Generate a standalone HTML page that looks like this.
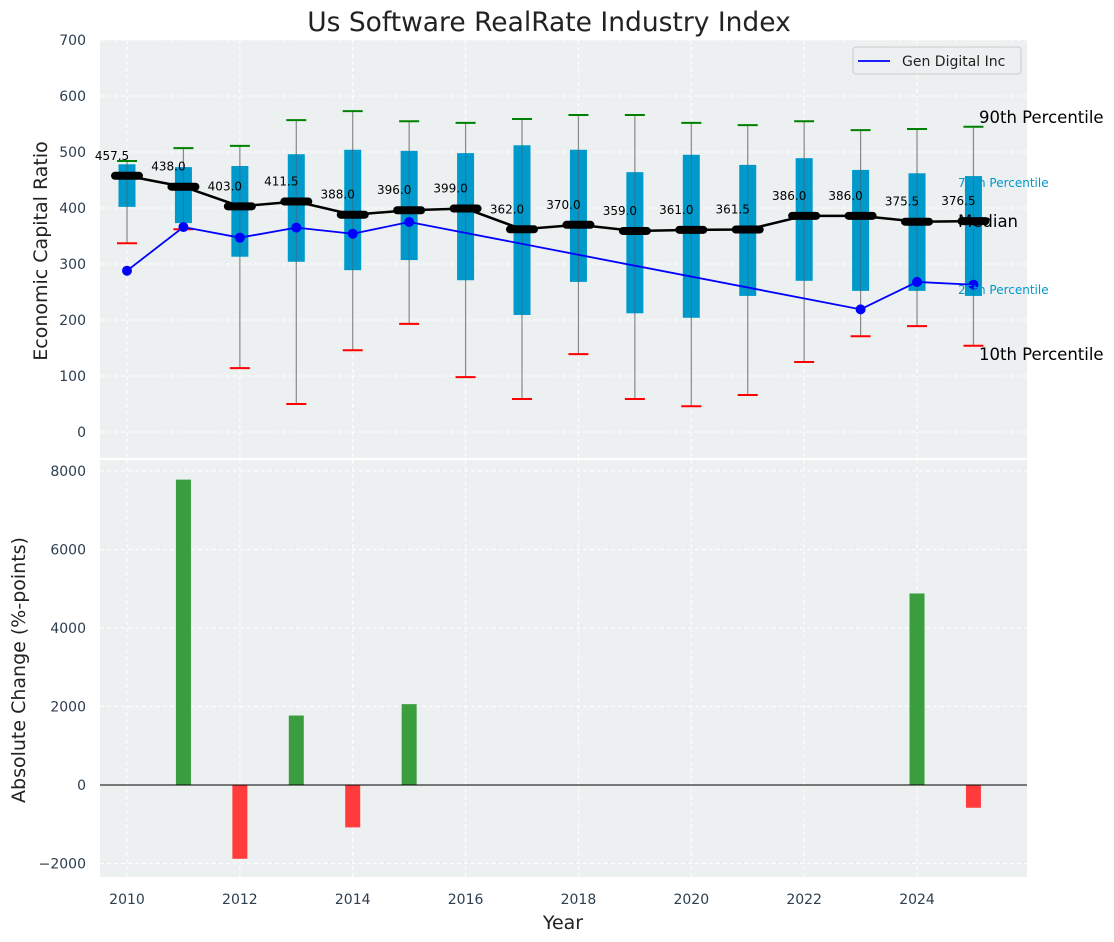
<!DOCTYPE html>
<html><head><meta charset="utf-8"><style>
body{margin:0;background:#fff;}
svg{display:block;font-family:"DejaVu Sans","Liberation Sans",sans-serif;}
</style></head><body>
<svg id="chart" width="1114" height="942" viewBox="0 0 1114 942" xmlns="http://www.w3.org/2000/svg"></svg>
<script>
const years=[2010,2011,2012,2013,2014,2015,2016,2017,2018,2019,2020,2021,2022,2023,2024,2025];
const p90=[484,507,511,557,573,555,552,559,566,566,552,548,555,539,541,545];
const p75=[478,473,475,496,504,502,498,512,504,464,495,477,489,468,462,457];
const median=[457.5,438.0,403.0,411.5,388.0,396.0,399.0,362.0,370.0,359.0,361.0,361.5,386.0,386.0,375.5,376.5];
const p25=[402,373,313,304,289,307,271,209,268,212,204,243,270,252,252,243];
const p10=[337,362,114,50,146,193,98,59,139,59,46,66,125,171,189,154];
const genYears=[2010,2011,2012,2013,2014,2015,2023,2024,2025];
const genValues=[288,366,347,365,354,375,219,268,263];
const changeYears=[2011,2012,2013,2014,2015,2024,2025];
const changeValues=[7780,-1880,1770,-1080,2060,4880,-580];
const topTicks=[0,100,200,300,400,500,600,700];
const botTicks=[-2000,0,2000,4000,6000,8000];
const xTicks=[2010,2012,2014,2016,2018,2020,2022,2024];

const NS="http://www.w3.org/2000/svg";
const svg=document.getElementById('chart');
function el(t,a,p){const e=document.createElementNS(NS,t);for(const k in a)e.setAttribute(k,a[k]);(p||svg).appendChild(e);return e;}
const L=100,R=1027,T1=40,B1=458,T2=460,B2=877;
const x=v=>127+(v-2010)*56.43;
const y1=v=>432-v*0.56;
const y2=v=>785-v*0.03925;
const tc='#2c3e50';

let bg1=el('rect',{x:L,y:T1,width:R-L,height:B1-T1,fill:'#ecf0f1'});

let bg2=el('rect',{x:L,y:T2,width:R-L,height:B2-T2,fill:'#ecf0f1'});


xTicks.forEach(v=>{
  el('line',{x1:x(v),x2:x(v),y1:T1,y2:B1,stroke:'#fff','stroke-dasharray':'4,3'});
  el('line',{x1:x(v),x2:x(v),y1:T2,y2:B2,stroke:'#fff','stroke-dasharray':'4,3'});
  const t=el('text',{x:x(v),y:904,'text-anchor':'middle','font-size':14,fill:tc});t.textContent=v;
  
});
topTicks.forEach(v=>{
  el('line',{x1:L,x2:R,y1:y1(v),y2:y1(v),stroke:'#fff','stroke-dasharray':'4,3'});
  const t=el('text',{x:86,y:y1(v)+5,'text-anchor':'end','font-size':14,fill:tc});t.textContent=v;
  
});
botTicks.forEach(v=>{
  el('line',{x1:L,x2:R,y1:y2(v),y2:y2(v),stroke:'#fff','stroke-dasharray':'4,3'});
  const t=el('text',{x:86,y:y2(v)+5,'text-anchor':'end','font-size':14,fill:tc});t.textContent=v<0?'\u2212'+(-v):v;
  
});

years.forEach((yr,i)=>{
  const cx=x(yr);
  const w=el('line',{x1:cx,x2:cx,y1:y1(p10[i]),y2:y1(p90[i]),stroke:'#888','stroke-width':1.2});
  
  const b=el('rect',{x:cx-8.5,y:y1(p75[i]),width:17,height:y1(p25[i])-y1(p75[i]),fill:'#0099cc'});
  
  el('line',{x1:cx,x2:cx,y1:y1(p75[i]),y2:y1(p25[i]),stroke:'#555','stroke-width':1,opacity:0.5});
  const g=el('line',{x1:cx-10,x2:cx+10,y1:y1(p90[i]),y2:y1(p90[i]),stroke:'green','stroke-width':2});
  
  const r=el('line',{x1:cx-10,x2:cx+10,y1:y1(p10[i]),y2:y1(p10[i]),stroke:'red','stroke-width':2});
  
});
const ml=el('polyline',{points:years.map((yr,i)=>x(yr)+','+y1(median[i])).join(' '),fill:'none',stroke:'#000','stroke-width':2.5});

years.forEach((yr,i)=>{
  const m=el('line',{x1:x(yr)-12,x2:x(yr)+12,y1:y1(median[i]),y2:y1(median[i]),stroke:'#000','stroke-width':8,'stroke-linecap':'round'});
  
  const t=el('text',{x:x(yr)-15,y:y1(median[i])-16,'text-anchor':'middle','font-size':12,fill:'#000'});t.textContent=median[i].toFixed(1);
  
});
const gl=el('polyline',{points:genYears.map((yr,i)=>x(yr)+','+y1(genValues[i])).join(' '),fill:'none',stroke:'#0000ff','stroke-width':1.8});

genYears.forEach((yr,i)=>{
  const c=el('circle',{cx:x(yr),cy:y1(genValues[i]),r:5,fill:'#0000ff'});
  
});
const last=years.length-1;
[['90th Percentile',979,y1(p90[last])-4,16.5,'#000'],['75th Percentile',958,y1(p75[last])+11,12,'#0099cc'],
 ['Median',958,y1(median[last])+6,16.5,'#000'],['25th Percentile',958,y1(p25[last])-2,12,'#0099cc'],
 ['10th Percentile',979,y1(p10[last])+14,16.5,'#000']].forEach(a=>{
  const t=el('text',{x:a[1],y:a[2],'font-size':a[3],fill:a[4]});t.textContent=a[0];
  
});
const lg=el('g',{});
el('rect',{x:853,y:47,width:168,height:27,rx:3,fill:'#ecf0f1',stroke:'#ccc'},lg);
el('line',{x1:858,x2:890,y1:61,y2:61,stroke:'#0000ff','stroke-width':1.8},lg);
const lt=el('text',{x:902,y:66,'font-size':14,fill:'#222'},lg);lt.textContent='Gen Digital Inc';

changeYears.forEach((yr,i)=>{
  const v=changeValues[i];
  const b=el('rect',{x:x(yr)-7.5,y:Math.min(y2(v),y2(0)),width:15,height:Math.abs(y2(v)-y2(0)),fill:v>=0?'#3a9d3e':'#ff3b3b'});
  
});
el('line',{x1:L,x2:R,y1:y2(0),y2:y2(0),stroke:'#000','stroke-width':1});

const tt=el('text',{x:549,y:31,'text-anchor':'middle','font-size':26.5,fill:'#222'});tt.textContent='Us Software RealRate Industry Index';

const xl=el('text',{x:563,y:929,'text-anchor':'middle','font-size':19,fill:'#222'});xl.textContent='Year';

const yl1=el('text',{x:0,y:0,'text-anchor':'middle','font-size':19,fill:'#222',transform:'translate(47,251) rotate(-90)'});yl1.textContent='Economic Capital Ratio';

const yl2=el('text',{x:0,y:0,'text-anchor':'middle','font-size':19,fill:'#222',transform:'translate(25,670) rotate(-90)'});yl2.textContent='Absolute Change (%-points)';

</script>
</body></html>
